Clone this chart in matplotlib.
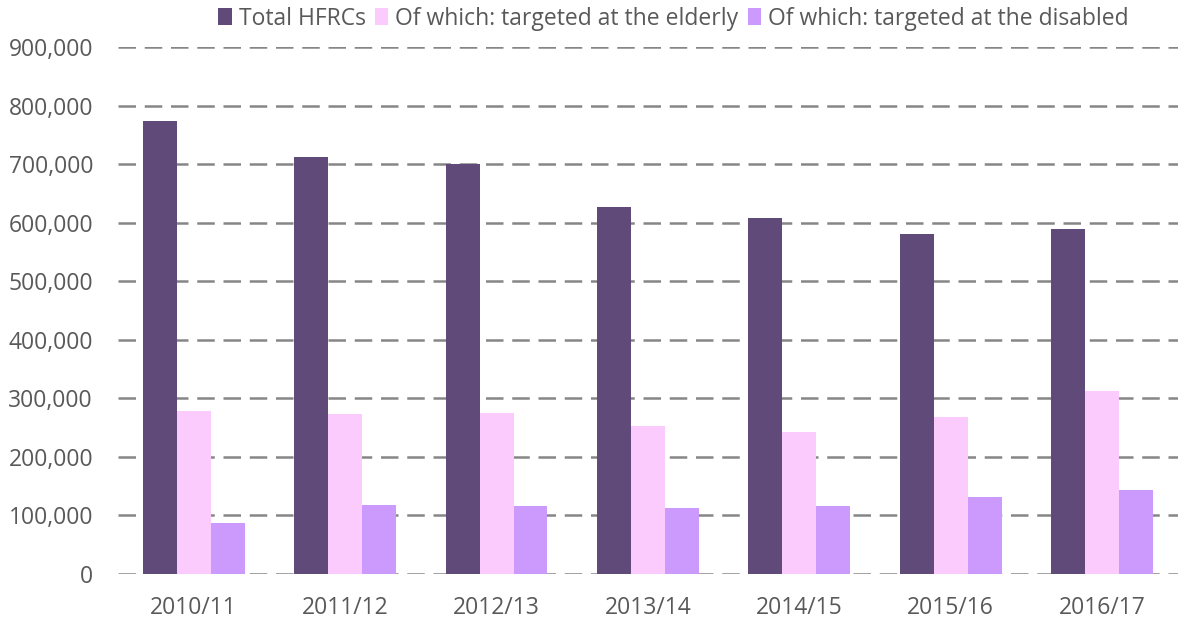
import numpy as np
import matplotlib.pyplot as plt
from matplotlib.ticker import FuncFormatter

# Values
years = ['2010/11', '2011/12', '2012/13', '2013/14', '2014/15', '2015/16', '2016/17']
total_hfrcs = [774000, 712000, 700000, 627000, 608000, 581000, 589000]
elderly = [278000, 273000, 275000, 253000, 243000, 268000, 313000]
disabled = [87000, 118000, 116000, 113000, 116000, 131000, 143000]

plt.rcParams['font.family'] = ['Open Sans', 'DejaVu Sans']
text_col = '#595959'

fig = plt.figure(figsize=(11.85, 6.23), dpi=100)
ax = fig.add_axes([0.0996, 0.0787, 0.8944, 0.8459])

x = np.arange(len(years))
w = 0.224
ax.bar(x - w, total_hfrcs, w, color='#5f4a7a', label='Total HFRCs', zorder=3)
ax.bar(x, elderly, w, color='#fccbfd', label='Of which: targeted at the elderly', zorder=3)
ax.bar(x + w, disabled, w, color='#cc99fc', label='Of which: targeted at the disabled', zorder=3)

ax.set_xlim(-0.5, len(years) - 0.5)
ax.set_ylim(0, 900000)
ax.set_yticks(np.arange(0, 900001, 100000))
ax.yaxis.set_major_formatter(FuncFormatter(lambda v, p: f'{int(v):,}'))
ax.set_xticks(x)
ax.set_xticklabels(years)
ax.grid(axis='y', color='#868686', linestyle=(0, (7, 3.5)), linewidth=1.8, zorder=0)
for s in ax.spines.values():
    s.set_visible(False)
ax.tick_params(length=0, labelsize=16.5, colors=text_col)
ax.tick_params(axis='x', pad=16)
ax.tick_params(axis='y', pad=18)

ax.legend(loc='center', bbox_to_anchor=(0.524, 1.054), ncol=3, frameon=False,
          fontsize=16.5, labelcolor=text_col, handlelength=0.6, handleheight=0.7,
          handletextpad=0.3, columnspacing=0.4, borderaxespad=0.0)

fig.savefig('out.png', dpi=100)
